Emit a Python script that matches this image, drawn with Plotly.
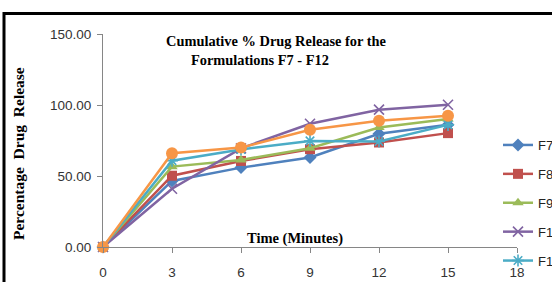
import plotly.graph_objects as go

time_min = [0, 3, 6, 9, 12, 15]
series_names = ["F7", "F8", "F9", "F10", "F11", "F12"]
f7 = [0.0, 46.5, 55.9, 63.0, 79.7, 86.1]
f8 = [0.0, 50.2, 60.6, 68.9, 73.6, 80.2]
f9 = [0.0, 56.6, 61.3, 69.6, 84.2, 90.1]
f10 = [0.0, 41.0, 69.5, 86.8, 96.7, 100.2]
f11 = [0.0, 60.8, 68.7, 74.7, 74.3, 86.0]
f12 = [0.0, 66.0, 70.0, 82.5, 88.9, 92.4]
y_ticks = [0, 50, 100, 150]
y_tick_labels = ["0.00", "50.00", "100.00", "150.00"]
x_ticks = [0, 3, 6, 9, 12, 15, 18]

values = [f7, f8, f9, f10, f11, f12]
colors = ["#4F81BD", "#C0504D", "#9BBB59", "#8064A2", "#4BACC6", "#F79646"]
symbols = ["diamond", "square", "triangle-up", "x-thin", "asterisk", "circle"]
sizes = [10, 10, 10, 10, 10, 12]

L, R, T, B = 103, 35, 34, 35
W, H = 552, 282
pw, ph = W - L - R, H - T - B

def px(x):
    return (x - L) / pw

def py(y):
    return (H - B - y) / ph

fig = go.Figure()
for name, vals, c, s, sz in zip(series_names, values, colors, symbols, sizes):
    thin = s in ("x-thin", "asterisk")
    fig.add_trace(go.Scatter(
        x=time_min, y=vals, name=name, mode="lines+markers",
        line=dict(color=c, width=2.5),
        marker=dict(symbol=s, size=sz, color=c,
                    line=dict(color=c, width=1.6 if thin else 0)),
        cliponaxis=False, legendgroup=name,
    ))

tickfont = dict(family="Liberation Sans", size=13.5, color="#333")
fig.update_layout(
    width=W, height=H,
    margin=dict(l=L, r=R, t=T, b=B, autoexpand=False),
    paper_bgcolor="white", plot_bgcolor="white",
    showlegend=True,
    legend=dict(x=px(498), y=py(130), xanchor="left", yanchor="top",
                font=dict(family="Liberation Sans", size=13, color="#222"),
                tracegroupgap=9, bgcolor="rgba(0,0,0,0)", itemwidth=30),
    xaxis=dict(range=[0, 18], tickvals=x_ticks, showgrid=False, zeroline=False,
               showline=True, linecolor="#868686", linewidth=1,
               ticks="outside", ticklen=5, tickcolor="#868686",
               ticklabelstandoff=8, tickfont=tickfont),
    yaxis=dict(range=[0, 150], tickvals=y_ticks, ticktext=y_tick_labels,
               showgrid=False, zeroline=False,
               showline=True, linecolor="#868686", linewidth=1,
               ticks="outside", ticklen=5, tickcolor="#868686",
               ticklabelstandoff=3, tickfont=tickfont),
)

serif = "Liberation Serif"
fig.add_annotation(text="<b>Cumulative % Drug Release for the</b>", xref="paper", yref="paper",
                   x=px(164), y=py(41), xanchor="left", yanchor="middle", showarrow=False,
                   font=dict(family=serif, size=14.4, color="black"))
fig.add_annotation(text="<b>Formulations F7 - F12</b>", xref="paper", yref="paper",
                   x=px(189), y=py(60), xanchor="left", yanchor="middle", showarrow=False,
                   font=dict(family=serif, size=14.4, color="black"))
fig.add_annotation(text="<b>Percentage  Drug  Release</b>", xref="paper", yref="paper",
                   x=px(18), y=py(154), xanchor="center", yanchor="middle", showarrow=False,
                   textangle=-90, font=dict(family=serif, size=15.5, color="black"))
fig.add_annotation(text="<b>Time (Minutes)</b>", xref="paper", yref="paper",
                   x=px(295), y=py(238), xanchor="center", yanchor="middle", showarrow=False,
                   font=dict(family=serif, size=14.5, color="black"))

fig.add_shape(type="rect", xref="paper", yref="paper",
              x0=px(4), x1=px(600), y0=py(330), y1=py(13.5),
              line=dict(color="black", width=3), fillcolor="rgba(0,0,0,0)", layer="above")

fig.write_html("out.html", config={"displayModeBar": False},
               post_script="document.body.style.margin='0';document.body.style.padding='0';")
